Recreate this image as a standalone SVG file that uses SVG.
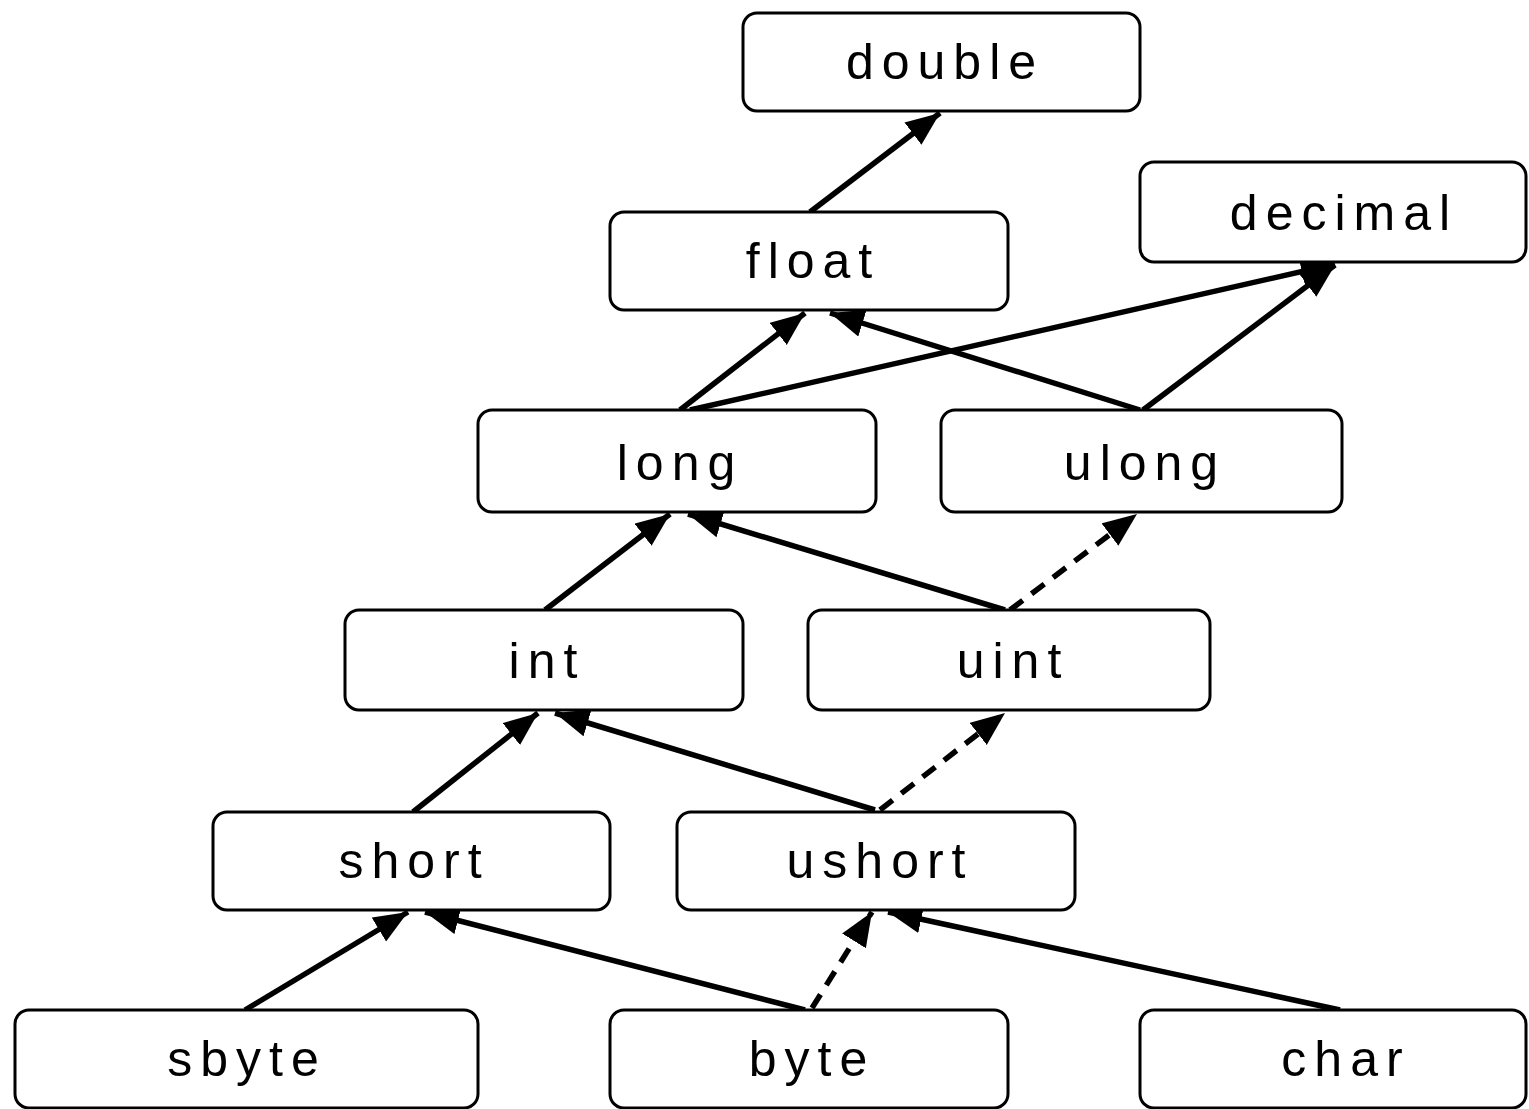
<svg xmlns="http://www.w3.org/2000/svg" width="1529" height="1109" viewBox="0 0 1529 1109">
  <style>
    .box { fill: #fff; stroke: #000; stroke-width: 3; }
    .lbl { font-family: "Liberation Sans", Arial, sans-serif; font-size: 50px; letter-spacing: 8px; fill: #000; text-anchor: middle; }
    .edge { fill: none; stroke: #000; stroke-width: 5.5; marker-end: url(#head); }
    .dash { stroke-dasharray: 16 11; }
  </style>
  <defs>
    <marker id="head" markerUnits="userSpaceOnUse" markerWidth="36" markerHeight="30" refX="34" refY="14" orient="auto">
      <path d="M0,0 L34,14 L0,28 z" fill="#000"/>
    </marker>
  </defs>
  <rect width="1529" height="1109" fill="#fff"/>

  <!-- conversion arrows -->
  <g id="connectors">
    <line class="edge" x1="810" y1="212" x2="940" y2="113"/>
    <line class="edge" x1="680" y1="410" x2="805" y2="313"/>
    <line class="edge" x1="690" y1="410" x2="1335" y2="264"/>
    <line class="edge" x1="1140" y1="410" x2="830" y2="313"/>
    <line class="edge" x1="1143" y1="410" x2="1335" y2="265"/>
    <line class="edge" x1="545" y1="610" x2="670" y2="514"/>
    <line class="edge" x1="1005" y1="610" x2="688" y2="514"/>
    <line class="edge dash" x1="1010" y1="610" x2="1137" y2="514"/>
    <line class="edge" x1="413" y1="812" x2="538" y2="713"/>
    <line class="edge" x1="875" y1="810" x2="555" y2="713"/>
    <line class="edge dash" x1="880" y1="810" x2="1005" y2="713"/>
    <line class="edge" x1="245" y1="1010" x2="408" y2="912"/>
    <line class="edge" x1="805" y1="1010" x2="425" y2="912"/>
    <line class="edge dash" x1="812" y1="1008" x2="872" y2="912"/>
    <line class="edge" x1="1340" y1="1010" x2="888" y2="912"/>
  </g>

  <g id="double"><rect class="box" x="743" y="13" width="397" height="98" rx="14"/><text class="lbl" x="945" y="79">double</text></g>
  <g id="decimal"><rect class="box" x="1140" y="162" width="386" height="100" rx="14"/><text class="lbl" x="1344" y="230">decimal</text></g>
  <g id="float"><rect class="box" x="610" y="212" width="398" height="98" rx="14"/><text class="lbl" x="813" y="278">float</text></g>
  <g id="long"><rect class="box" x="478" y="410" width="398" height="102" rx="14"/><text class="lbl" x="680" y="480">long</text></g>
  <g id="ulong"><rect class="box" x="941" y="410" width="401" height="102" rx="14"/><text class="lbl" x="1145" y="480">ulong</text></g>
  <g id="int"><rect class="box" x="345" y="610" width="398" height="100" rx="14"/><text class="lbl" x="547" y="678">int</text></g>
  <g id="uint"><rect class="box" x="808" y="610" width="402" height="100" rx="14"/><text class="lbl" x="1013" y="678">uint</text></g>
  <g id="short"><rect class="box" x="213" y="812" width="397" height="98" rx="14"/><text class="lbl" x="414" y="878">short</text></g>
  <g id="ushort"><rect class="box" x="677" y="812" width="398" height="98" rx="14"/><text class="lbl" x="880" y="878">ushort</text></g>
  <g id="sbyte"><rect class="box" x="15" y="1010" width="463" height="98" rx="14"/><text class="lbl" x="247" y="1076">sbyte</text></g>
  <g id="byte"><rect class="box" x="610" y="1010" width="398" height="98" rx="14"/><text class="lbl" x="812" y="1076">byte</text></g>
  <g id="char"><rect class="box" x="1140" y="1010" width="386" height="98" rx="14"/><text class="lbl" x="1346" y="1076">char</text></g>
</svg>
